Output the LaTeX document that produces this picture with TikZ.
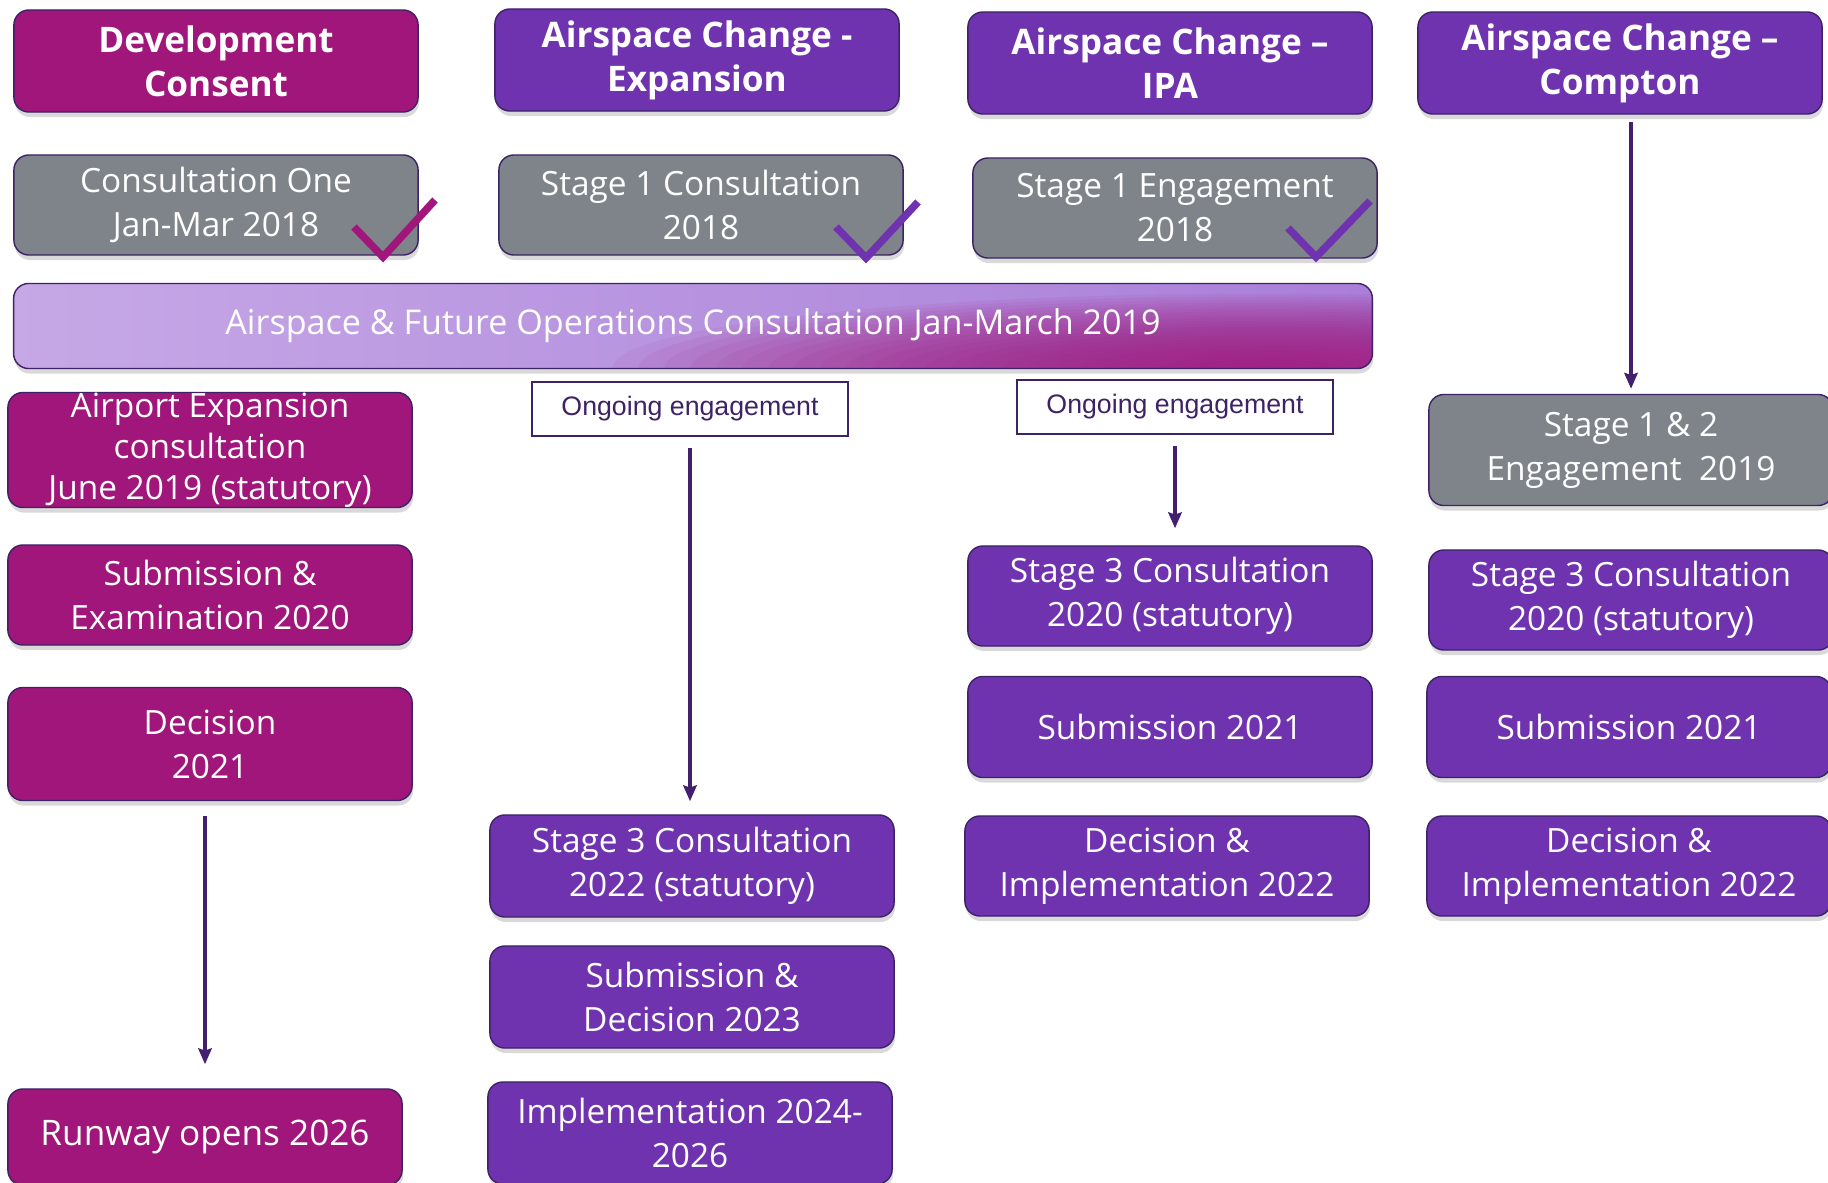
\documentclass[tikz,border=0pt]{standalone}
\usepackage{fontspec}
\setmainfont{Open Sans}
\newfontfamily\ogfont{Liberation Sans}
\usetikzlibrary{arrows.meta,shadows}

\definecolor{dcmag}{HTML}{A0167A}
\definecolor{acpurple}{HTML}{7033B0}
\definecolor{donegray}{HTML}{7E848A}
\definecolor{edge}{HTML}{3D2266}
\definecolor{flowline}{HTML}{43206F}
\definecolor{barleft}{HTML}{C6A8E6}
\definecolor{barright}{HTML}{A97FD9}

\tikzset{
  box/.style={draw=edge, line width=0.4pt, rounded corners=0.15cm, text=white, align=center,
    inner sep=0pt, minimum width=4.04cm, minimum height=1cm,
    drop shadow={shadow xshift=0.01cm, shadow yshift=-0.05cm, opacity=0.3},
    font=\fontsize{9.5}{12.5}\selectfont},
  head/.style={box, font=\bfseries\fontsize{10}{12.5}\selectfont, minimum height=1.02cm},
  dcfill/.style={fill=dcmag},
  acfill/.style={fill=acpurple},
  donefill/.style={fill=donegray},
  ongoing/.style={draw=edge, fill=white, line width=0.6pt, minimum width=3.15cm,
    minimum height=0.54cm, inner sep=0pt, text=edge, font=\ogfont\fontsize{7.6}{9}\selectfont},
  flow/.style={draw=flowline, line width=1.1pt, -{Stealth[length=4.5pt,width=3.8pt,inset=0.6pt]}},
  tick/.style={line width=0.075cm, line join=miter}
}

\begin{document}
\begin{tikzpicture}[x=0.01cm, y=-0.01cm]
  \useasboundingbox (0,0) rectangle (1828,1182);

  % headers
  \node[head, dcfill] (hdc) at (216,61) {Development\\Consent};
  \node[head, acfill] (hexp) at (697,60) {Airspace Change -\\Expansion};
  \node[head, acfill] (hipa) at (1170,63) {Airspace Change –\\IPA};
  \node[head, acfill] (hcom) at (1620,63) {Airspace Change –\\Compton};

  % done in 2018
  \node[box, donefill] (cone) at (216,205) {Consultation One\\Jan-Mar 2018};
  \node[box, donefill] (sone) at (701,205) {Stage 1 Consultation\\2018};
  \node[box, donefill] (eone) at (1175,208) {Stage 1 Engagement\\2018};
  \draw[tick, dcmag] (354,227) -- (383,257) -- (435,200);
  \draw[tick, acpurple] (836,227) -- (866,258) -- (918,202);
  \draw[tick, acpurple] (1288,228) -- (1316,257) -- (1370,201);

  % joint consultation
  \node[box, minimum width=13.58cm, minimum height=0.85cm,
    left color=barleft, middle color=barright, right color=barright,
    font=\fontsize{9.7}{12.5}\selectfont,
    path picture={\foreach \r in {1,...,25}
      \fill[dcmag, opacity=0.07] ([xshift=-1.1cm]path picture bounding box.south east)
        ellipse [x radius=26*\r, y radius=3*\r];}]
    (afo) at (693,326) {Airspace \& Future Operations Consultation Jan-March 2019};

  % development consent
  \node[box, dcfill, minimum height=1.15cm, font=\fontsize{9.5}{11.6}\selectfont] (aexp) at (210,450)
    {Airport Expansion\\consultation\\June 2019 (statutory)};
  \node[box, dcfill] (subex) at (210,595) {Submission \&\\Examination 2020};
  \node[box, dcfill, minimum height=1.13cm] (dec) at (210,744) {Decision\\2021};
  \node[box, dcfill, minimum width=3.94cm, minimum height=0.96cm, font=\fontsize{10}{12.5}\selectfont]
    (runway) at (205,1137) {Runway opens 2026};

  % expansion
  \node[ongoing] (ogexp) at (690,409) {Ongoing engagement};
  \node[box, acfill, minimum height=1.02cm] (sthreeexp) at (692,866) {Stage 3 Consultation\\2022 (statutory)};
  \node[box, acfill, minimum height=1.02cm] (subdec) at (692,997) {Submission \&\\Decision 2023};
  \node[box, acfill, minimum height=1.02cm] (impl) at (690,1133) {Implementation 2024-\\2026};

  % IPA
  \node[ongoing] (ogipa) at (1175,407) {Ongoing engagement};
  \node[box, acfill] (sthreeipa) at (1170,596) {Stage 3 Consultation\\2020 (statutory)};
  \node[box, acfill, minimum height=1.01cm] (subipa) at (1170,727) {Submission 2021};
  \node[box, acfill] (decipa) at (1167,866) {Decision \&\\Implementation 2022};

  % Compton
  \node[box, donefill, minimum height=1.11cm] (sonetwo) at (1631,450) {Stage 1 \& 2\\Engagement\ \ 2019};
  \node[box, acfill] (sthreecom) at (1631,600) {Stage 3 Consultation\\2020 (statutory)};
  \node[box, acfill, minimum height=1.01cm] (subcom) at (1629,727) {Submission 2021};
  \node[box, acfill] (deccom) at (1629,866) {Decision \&\\Implementation 2022};

  % arrows
  \draw[flow, shorten <=0.15cm, shorten >=0.24cm] (dec.south -| runway.north) -- (runway.north);
  \draw[flow, shorten <=0.11cm, shorten >=0.13cm] (ogexp.south) -- (ogexp.south |- sthreeexp.north);
  \draw[flow, shorten <=0.11cm, shorten >=0.17cm] (ogipa.south) -- (ogipa.south |- sthreeipa.north);
  \draw[flow, shorten <=0.07cm, shorten >=0.05cm] (hcom.south -| sonetwo.north) -- (sonetwo.north);
\end{tikzpicture}
\end{document}
